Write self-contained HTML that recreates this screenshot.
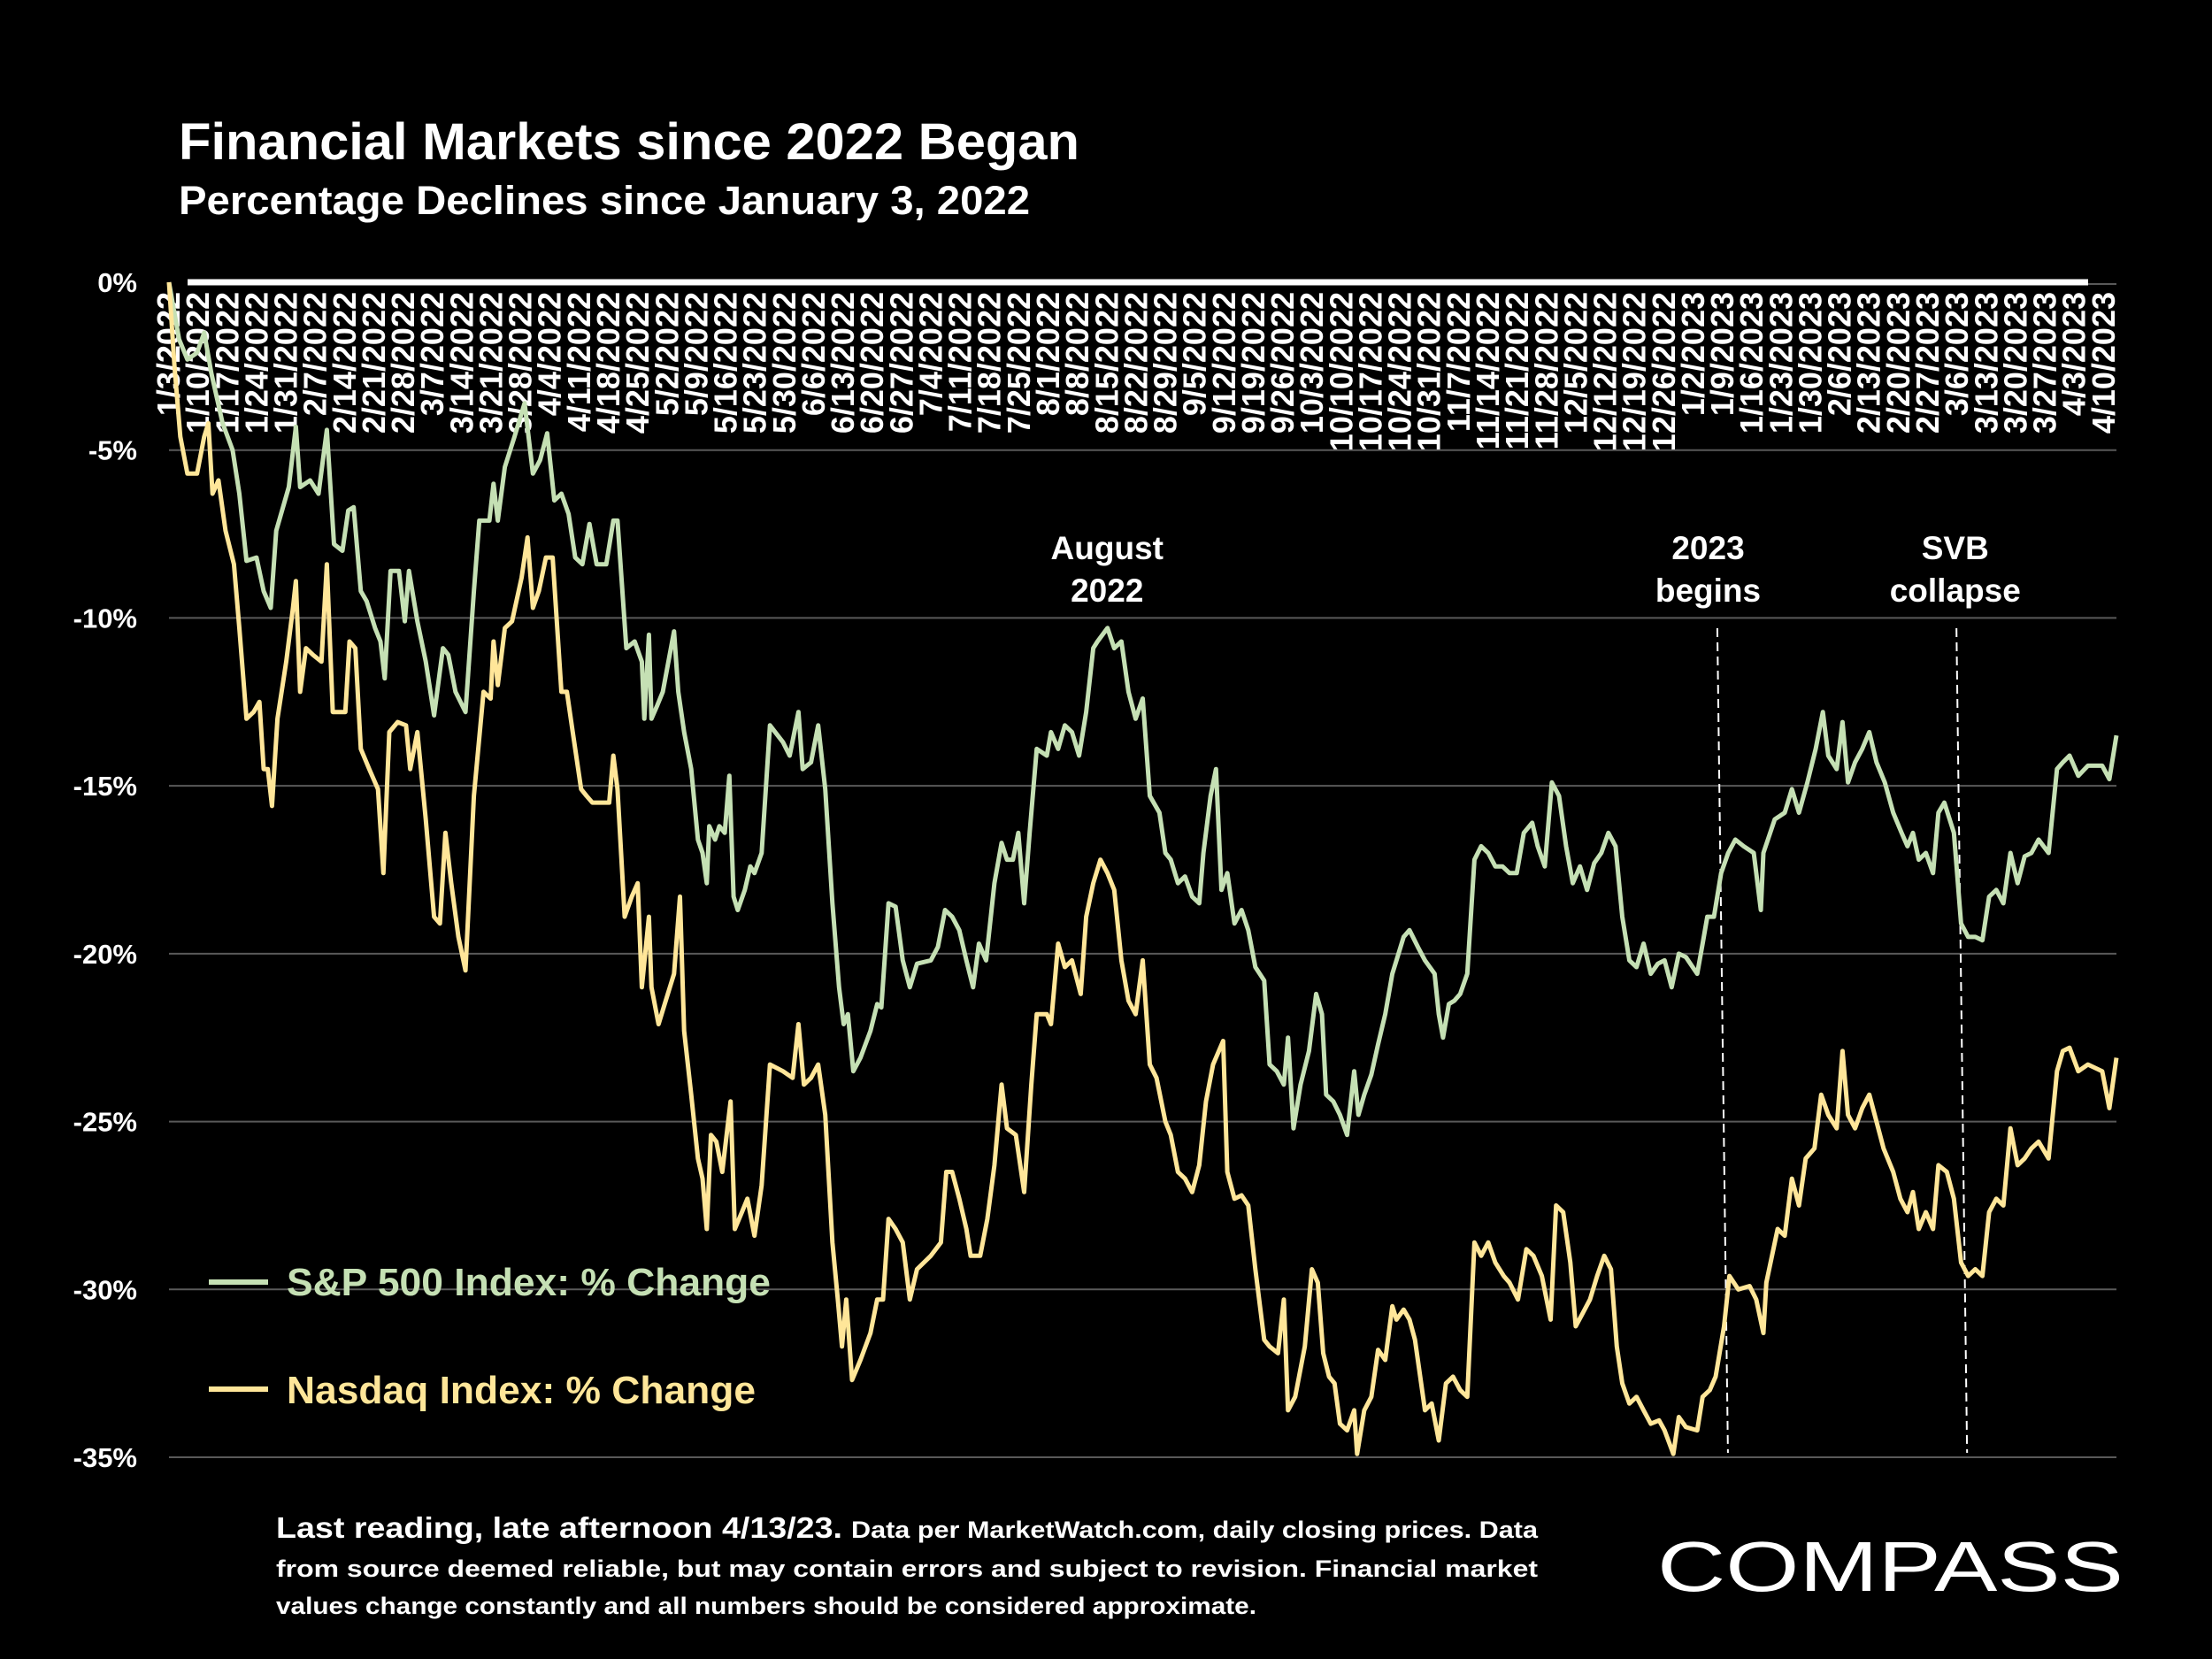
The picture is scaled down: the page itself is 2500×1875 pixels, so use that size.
<!DOCTYPE html>
<html><head><meta charset="utf-8"><style>
html,body{margin:0;padding:0;background:#000;}
svg{display:block;font-family:"Liberation Sans",sans-serif;font-weight:bold;}
</style></head><body>
<svg id="chart" width="2500" height="1875" viewBox="0 0 2500 1875" xmlns="http://www.w3.org/2000/svg">
<rect width="2500" height="1875" fill="#000"/>
<text x="202" y="180" fill="#fff" font-size="58" textLength="1018" lengthAdjust="spacingAndGlyphs">Financial Markets since 2022 Began</text>
<text x="202" y="242" fill="#fff" font-size="45" textLength="962" lengthAdjust="spacingAndGlyphs">Percentage Declines since January 3, 2022</text>
<g id="grid"></g>
<g id="yaxis"></g>
<g id="xaxis"></g>
<g id="annot"></g>
<g id="series"></g>
<g>
<line x1="236" y1="1449" x2="303" y2="1449" stroke="#c5e0b4" stroke-width="6"/>
<text x="324" y="1464" fill="#c5e0b4" font-size="44" textLength="547" lengthAdjust="spacingAndGlyphs">S&amp;P 500 Index: % Change</text>
<line x1="236" y1="1570" x2="303" y2="1570" stroke="#ffe699" stroke-width="6"/>
<text x="324" y="1586" fill="#ffe699" font-size="44" textLength="530" lengthAdjust="spacingAndGlyphs">Nasdaq Index: % Change</text>
</g>
<g fill="#fff">
<text x="312" y="1738" font-size="33" textLength="640" lengthAdjust="spacingAndGlyphs">Last reading, late afternoon 4/13/23.</text>
<text x="962" y="1738" font-size="27" textLength="776" lengthAdjust="spacingAndGlyphs">Data per MarketWatch.com, daily closing prices. Data</text>
<text x="312" y="1782" font-size="27" textLength="1426" lengthAdjust="spacingAndGlyphs">from source deemed reliable, but may contain errors and subject to revision. Financial market</text>
<text x="312" y="1824" font-size="27" textLength="1108" lengthAdjust="spacingAndGlyphs">values change constantly and all numbers should be considered approximate.</text>
</g>
<text x="1873" y="1798" fill="#fff" font-size="80" font-weight="normal" textLength="527" lengthAdjust="spacingAndGlyphs">COMPASS</text>
</svg>
<script>
const yTicks = [0,-5,-10,-15,-20,-25,-30,-35];
const yTickLabels = ["0%","-5%","-10%","-15%","-20%","-25%","-30%","-35%"];
const weekCount = 67;
const startDate = [2022,0,3];
const spDays = [0,2.4,4.4,6.7,8.4,10.1,12.8,15.2,16.8,18.5,20.9,22.6,24.3,25.6,28.6,30.3,31.3,33.7,35.7,37.7,39.4,41.4,42.8,44.1,45.8,47.2,49.2,50.5,51.5,52.9,54.9,56.3,57.3,59.3,61.3,63.3,65.4,66.7,68.4,70.8,72.8,74.1,76.5,77.5,78.5,80.2,82.5,84.9,86.9,88.6,90.3,92.0,93.7,95.4,97.0,98.7,100.4,102.1,104.4,106.1,107.1,109.2,111.2,112.9,113.5,114.6,115.2,116.6,117.9,120.6,121.6,123.0,124.7,126.3,127.4,128.4,129.0,130.4,131.4,132.7,133.8,134.8,135.8,137.5,138.8,139.8,141.5,143.5,146.6,148.2,150.3,151.3,153.3,155.0,156.7,158.4,160.0,161.1,162.1,163.4,165.1,167.5,169.1,170.1,171.8,173.5,175.2,176.9,178.6,181.9,183.6,185.3,187.0,188.7,190.4,192.0,193.4,195.1,197.1,198.8,200.1,201.5,202.8,204.2,205.5,207.2,209.6,210.6,212.3,213.9,215.6,217.3,219.0,220.7,221.7,224.1,225.7,227.4,229.1,230.8,232.5,234.2,236.5,237.9,239.2,240.9,242.6,244.3,246.0,247.0,248.7,250.0,251.3,252.7,254.4,256.1,257.7,259.4,261.5,262.8,264.5,266.2,267.2,268.5,270.2,272.2,273.9,275.3,276.3,278.0,279.6,281.3,283.0,284.0,285.4,287.1,288.7,290.4,292.1,293.1,294.8,296.2,298.2,299.9,302.2,303.2,304.2,305.6,306.9,308.3,310.0,311.7,313.3,315.0,316.7,318.4,320.1,321.8,323.5,325.5,326.8,328.5,330.2,331.9,333.6,335.2,336.9,338.6,340.3,342.0,343.7,345.4,347.0,348.7,350.4,352.1,353.8,355.5,357.1,358.8,360.5,362.2,364.9,366.2,367.3,368.9,370.6,372.3,374.0,376.0,378.4,380.1,380.7,383.4,385.8,387.5,389.2,391.2,393.2,394.9,396.2,398.2,399.6,400.9,402.6,404.3,406.0,407.7,409.7,411.7,413.7,415.1,416.4,417.8,419.5,421.2,422.5,423.9,426.2,427.9,429.6,431.3,433.0,434.6,436.3,438.0,439.7,441.4,443.1,444.7,446.4,448.8,450.8,452.2,453.8,455.9,458.2,461.6,463.3,465.0];
const spValues = [0,-1.7,-2.3,-2.1,-1.5,-2.7,-4.2,-5.0,-6.3,-8.3,-8.2,-9.2,-9.7,-7.4,-6.1,-4.3,-6.1,-5.9,-6.3,-4.4,-7.8,-8.0,-6.8,-6.7,-9.2,-9.5,-10.3,-10.7,-11.8,-8.6,-8.6,-10.1,-8.6,-10.1,-11.3,-12.9,-10.9,-11.1,-12.2,-12.8,-9.2,-7.1,-7.1,-6.0,-7.1,-5.5,-4.6,-3.6,-5.7,-5.3,-4.5,-6.5,-6.3,-6.9,-8.2,-8.4,-7.2,-8.4,-8.4,-7.1,-7.1,-10.9,-10.7,-11.3,-13.0,-10.5,-13.0,-12.6,-12.2,-10.4,-12.2,-13.4,-14.5,-16.6,-17.0,-17.9,-16.2,-16.6,-16.2,-16.4,-14.7,-18.3,-18.7,-18.1,-17.4,-17.6,-17.0,-13.2,-13.7,-14.1,-12.8,-14.5,-14.3,-13.2,-15.1,-18.5,-21.0,-22.1,-21.8,-23.5,-23.1,-22.3,-21.5,-21.6,-18.5,-18.6,-20.2,-21.0,-20.3,-20.2,-19.8,-18.7,-18.9,-19.3,-20.2,-21.0,-19.7,-20.2,-17.9,-16.7,-17.2,-17.2,-16.4,-18.5,-16.4,-13.9,-14.1,-13.4,-13.9,-13.2,-13.4,-14.1,-12.8,-10.9,-10.7,-10.3,-10.9,-10.7,-12.2,-13.0,-12.4,-15.3,-15.8,-17.0,-17.2,-17.9,-17.7,-18.3,-18.5,-17.0,-15.3,-14.5,-18.1,-17.6,-19.1,-18.7,-19.3,-20.4,-20.8,-23.3,-23.5,-23.9,-22.5,-25.2,-23.9,-22.9,-21.2,-21.8,-24.2,-24.4,-24.8,-25.4,-23.5,-24.8,-24.2,-23.6,-22.7,-21.8,-20.6,-20.2,-19.5,-19.3,-19.8,-20.2,-20.6,-21.8,-22.5,-21.5,-21.4,-21.2,-20.6,-17.2,-16.8,-17.0,-17.4,-17.4,-17.6,-17.6,-16.4,-16.1,-16.8,-17.4,-14.9,-15.3,-16.8,-17.9,-17.4,-18.1,-17.3,-17.0,-16.4,-16.8,-18.9,-20.2,-20.4,-19.7,-20.6,-20.3,-20.2,-21.0,-20.0,-20.1,-20.6,-19.7,-18.9,-18.9,-17.6,-17.0,-16.6,-16.8,-17.0,-18.7,-17.0,-16.0,-15.8,-15.1,-15.8,-14.9,-13.9,-12.8,-14.1,-14.5,-13.1,-14.9,-14.3,-13.9,-13.4,-14.3,-14.9,-15.8,-16.4,-16.8,-16.4,-17.2,-17.0,-17.6,-15.8,-15.5,-16.4,-19.1,-19.5,-19.5,-19.6,-18.3,-18.1,-18.5,-17.0,-17.9,-17.1,-17.0,-16.6,-17.0,-14.5,-14.3,-14.1,-14.7,-14.4,-14.4,-14.8,-13.5];
const nqDays = [0,1.3,2.7,4.4,6.7,8.4,9.4,10.4,11.8,13.5,15.5,16.8,18.5,20.2,21.6,22.6,23.6,24.6,25.9,28.0,29.6,30.3,31.3,32.7,34.4,36.4,37.7,39.1,40.4,42.1,43.1,44.5,45.8,47.8,49.9,51.2,52.6,54.6,56.6,57.6,59.3,61.3,63.3,64.7,66.0,67.4,69.1,70.8,72.8,75.1,76.8,77.5,78.5,80.2,81.9,84.2,85.6,86.9,88.3,90.0,91.6,93.7,95.0,96.4,98.4,99.7,101.1,102.8,105.1,106.1,107.1,108.8,110.5,111.9,112.9,114.6,115.2,116.9,118.6,120.6,122.0,123.0,124.7,126.3,127.4,128.4,129.4,130.7,132.1,134.1,135.1,136.8,138.1,139.8,141.5,143.5,146.6,148.9,150.3,151.6,153.3,155.0,156.7,158.4,159.7,160.7,161.7,163.1,165.1,167.5,169.1,170.5,171.8,173.5,175.2,176.9,178.6,181.9,184.3,185.6,187.0,188.7,190.4,191.4,193.7,195.4,197.1,198.8,200.1,202.2,204.2,205.9,207.2,209.6,210.6,212.3,213.9,215.6,217.7,219.0,220.7,222.4,224.1,225.7,227.4,229.1,230.8,232.5,234.2,235.8,237.9,239.2,240.9,242.6,244.3,246.0,247.6,249.3,251.7,252.7,254.4,256.1,257.7,259.4,261.5,262.8,264.8,266.2,267.2,268.9,271.2,272.9,274.3,275.6,277.0,278.3,279.6,281.3,283.0,283.7,285.4,287.1,288.7,290.4,292.1,293.1,294.8,296.2,297.5,299.9,301.5,303.2,304.9,306.6,308.3,310.0,311.7,313.3,315.0,316.7,318.7,320.1,322.1,324.1,325.8,327.8,329.9,331.2,332.9,334.6,335.9,337.6,339.3,341.0,342.7,344.3,345.7,347.0,348.7,350.4,352.1,353.8,355.8,357.1,359.2,360.5,362.2,364.9,366.2,367.9,369.3,371.3,372.6,374.7,377.4,379.0,380.7,381.4,384.1,385.8,387.5,389.2,390.8,392.9,394.5,396.2,398.2,399.6,400.9,402.6,404.3,406.0,407.7,409.4,411.7,413.4,415.1,416.4,417.8,419.5,421.2,422.5,424.5,426.2,427.9,429.6,431.3,433.0,434.6,436.3,438.0,439.7,441.4,443.1,444.7,446.4,448.8,450.8,452.2,453.8,455.9,458.2,461.6,463.3,465.0];
const nqValues = [0,-2.5,-4.6,-5.7,-5.7,-4.6,-4.2,-6.3,-5.9,-7.4,-8.4,-10.3,-13.0,-12.8,-12.5,-14.5,-14.5,-15.6,-13.0,-11.3,-9.7,-8.9,-12.2,-10.9,-11.1,-11.3,-8.4,-12.8,-12.8,-12.8,-10.7,-10.9,-13.9,-14.5,-15.1,-17.6,-13.4,-13.1,-13.2,-14.5,-13.4,-16.0,-18.9,-19.1,-16.4,-17.9,-19.5,-20.5,-15.3,-12.2,-12.4,-10.7,-12.0,-10.3,-10.1,-8.8,-7.6,-9.7,-9.2,-8.2,-8.2,-12.2,-12.2,-13.4,-15.1,-15.3,-15.5,-15.5,-15.5,-14.1,-15.1,-18.9,-18.3,-17.9,-21.0,-18.9,-21.0,-22.1,-21.4,-20.6,-18.3,-22.3,-24.2,-26.1,-26.7,-28.2,-25.4,-25.6,-26.5,-24.4,-28.2,-27.7,-27.3,-28.4,-26.9,-23.3,-23.5,-23.7,-22.1,-23.9,-23.7,-23.3,-24.8,-28.6,-30.3,-31.7,-30.3,-32.7,-32.1,-31.3,-30.3,-30.3,-27.9,-28.2,-28.6,-30.3,-29.4,-29.0,-28.6,-26.5,-26.5,-27.3,-28.2,-29.0,-29.0,-27.9,-26.3,-23.9,-25.2,-25.4,-27.1,-23.9,-21.8,-21.8,-22.1,-19.7,-20.4,-20.2,-21.2,-18.9,-17.9,-17.2,-17.6,-18.1,-20.2,-21.4,-21.8,-20.2,-23.3,-23.7,-25.0,-25.4,-26.5,-26.7,-27.1,-26.3,-24.4,-23.3,-22.6,-26.5,-27.3,-27.2,-27.5,-29.4,-31.5,-31.7,-31.9,-30.3,-33.6,-33.2,-31.7,-29.4,-29.8,-31.9,-32.6,-32.8,-34.0,-34.2,-33.6,-34.9,-33.6,-33.2,-31.8,-32.1,-30.5,-30.9,-30.6,-30.9,-31.5,-33.6,-33.4,-34.5,-32.8,-32.6,-33.0,-33.2,-28.6,-29.0,-28.6,-29.2,-29.6,-29.8,-30.3,-28.8,-29.0,-29.6,-30.9,-27.5,-27.7,-29.2,-31.1,-30.7,-30.3,-29.6,-29.0,-29.4,-31.7,-32.8,-33.4,-33.2,-33.6,-34.0,-33.9,-34.2,-34.9,-33.8,-34.1,-34.2,-33.2,-33.0,-32.6,-31.1,-29.6,-30.0,-29.9,-30.3,-31.3,-29.8,-28.2,-28.4,-26.7,-27.5,-26.1,-25.8,-24.2,-24.8,-25.2,-22.9,-24.8,-25.2,-24.6,-24.2,-25.0,-25.8,-26.5,-27.3,-27.7,-27.1,-28.2,-27.7,-28.2,-26.3,-26.5,-27.3,-29.2,-29.6,-29.4,-29.6,-27.7,-27.3,-27.5,-25.2,-26.3,-26.1,-25.8,-25.6,-26.1,-23.5,-22.9,-22.8,-23.5,-23.3,-23.5,-24.6,-23.1];
const annotLabels = [["August","2022"],["2023","begins"],["SVB","collapse"]];
const annotDays = [224, 367.5, 426.5];
const eventLineDays = [369.7, 426.8];

const NS = "http://www.w3.org/2000/svg";
const X0 = 191, X1 = 2392, Y0 = 319, Y1 = 1647, DMAX = 465;
function xs(d){ return X0 + (X1 - X0) * d / DMAX; }
function ys(v){ return Y0 + (Y1 - Y0) * (v / -35); }
function mk(tag, attrs, parent){ const e = document.createElementNS(NS, tag); for (const k in attrs) e.setAttribute(k, attrs[k]); parent.appendChild(e); return e; }

const grid = document.getElementById('grid');
const yaxis = document.getElementById('yaxis');
yTicks.forEach((t, i) => {
  if (t !== 0) {
    const gl = mk('line', {x1: X0, x2: X1, y1: ys(t), y2: ys(t), stroke: '#595959', 'stroke-width': 2}, grid);
    
    
  } else {
    const gl = mk('line', {x1: X0 + 21, x2: X1 - 32, y1: ys(t), y2: ys(t), stroke: '#fff', 'stroke-width': 7}, grid);
    
    
    const g2 = mk('line', {x1: X1 - 32, x2: X1, y1: ys(t) + 2, y2: ys(t) + 2, stroke: '#595959', 'stroke-width': 2}, grid);
    
    
  }
  const tx = mk('text', {x: 155, y: ys(t) + 11, fill: '#fff', 'font-size': 31, 'text-anchor': 'end'}, yaxis);
  tx.textContent = yTickLabels[i];
  
  
});

const xaxis = document.getElementById('xaxis');
for (let w = 0; w < weekCount; w++) {
  const dt = new Date(startDate[0], startDate[1], startDate[2] + 7 * w);
  const label = (dt.getMonth() + 1) + '/' + dt.getDate() + '/' + dt.getFullYear();
  const x = xs(7 * w) + 12;
  const t = mk('text', {x: 0, y: 0, fill: '#fff', 'font-size': 36, 'text-anchor': 'end', transform: 'translate(' + x + ',330) rotate(-90)'}, xaxis);
  t.textContent = label;
  
  
}

const annot = document.getElementById('annot');
annotLabels.forEach((lines, i) => {
  lines.forEach((s, j) => {
    const t = mk('text', {x: xs(annotDays[i]), y: 632 + j * 48, fill: '#fff', 'font-size': 37, 'text-anchor': 'middle'}, annot);
    t.textContent = s;
    
    
  });
});
eventLineDays.forEach(d => {
  const l = mk('line', {x1: xs(d), y1: 710, x2: xs(d) + 12, y2: 1642, stroke: '#fff', 'stroke-width': 2, 'stroke-dasharray': '10,6'}, annot);
  
  
});

const series = document.getElementById('series');
function drawLine(days, vals, color, name){
  const pts = days.map((d, i) => xs(d).toFixed(1) + ',' + ys(vals[i]).toFixed(1)).join(' ');
  const p = mk('polyline', {points: pts, fill: 'none', stroke: color, 'stroke-width': 5, 'stroke-linejoin': 'round'}, series);
  
  
}
drawLine(spDays, spValues, '#c5e0b4', 'sp500-line');
drawLine(nqDays, nqValues, '#ffe699', 'nasdaq-line');
</script>
</body></html>
